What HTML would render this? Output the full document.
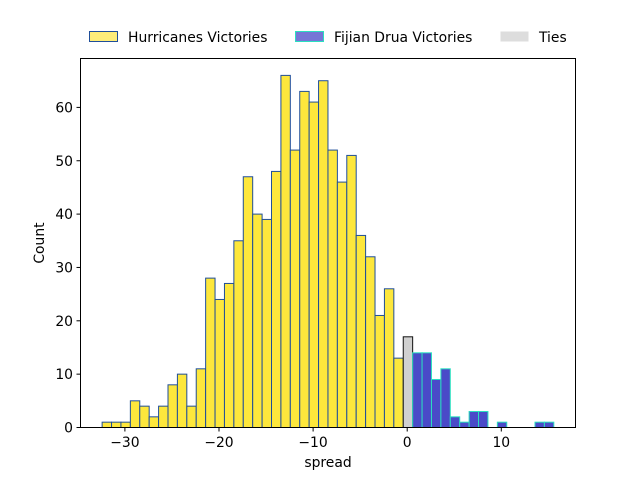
<!DOCTYPE html>
<html><head><meta charset="utf-8"><style>body{margin:0;background:#fff}svg{font-family:"DejaVu Sans","Liberation Sans",sans-serif}</style></head>
<body>
<svg id="chart" width="640" height="480">
<rect width="640" height="480" fill="#fff"/>
<g id="bars"></g>
<rect x="80.5" y="58.5" width="495" height="369" fill="none" stroke="#000" stroke-width="1"/>
<g id="axes"></g>
<text x="328" y="467" font-size="13.9" text-anchor="middle">spread</text>
<text x="44" y="243" font-size="13.9" text-anchor="middle" transform="rotate(-90 44 243)">Count</text>
<g>
<g><rect x="89.5" y="31.5" width="28" height="10" fill="#fde74c" fill-opacity="0.75" stroke="#1f4e9a"/><text x="128" y="42" font-size="13.9">Hurricanes Victories</text></g>
<g><rect x="295.5" y="31.5" width="28" height="10" fill="#4848c8" fill-opacity="0.75" stroke="#2adfc0"/><text x="334" y="42" font-size="13.9">Fijian Drua Victories</text></g>
<g><rect x="500.5" y="31.5" width="28" height="10" fill="#dddddd"/><text x="539" y="42" font-size="13.9">Ties</text></g>
</g>
</svg>
<script>
const hurricaneBins = [-32,-31,-30,-29,-28,-27,-26,-25,-24,-23,-22,-21,-20,-19,-18,-17,-16,-15,-14,-13,-12,-11,-10,-9,-8,-7,-6,-5,-4,-3,-2,-1];
const hurricaneCounts = [1,1,1,5,4,2,4,8,10,4,11,28,24,27,35,47,40,39,48,66,52,63,61,65,52,46,51,36,32,21,26,13];
const tieBins = [0];
const tieCounts = [17];
const fijiBins = [1,2,3,4,5,6,7,8,9,10,11,12,13,14,15];
const fijiCounts = [14,14,9,11,2,1,3,3,0,1,0,0,0,1,1];
const xTicks = [-30,-20,-10,0,10];
const yTicks = [0,10,20,30,40,50,60];

const NS="http://www.w3.org/2000/svg";
const xs = v => 407.2 + (v)*9.41;
const ys = v => 427.5 - v*5.335;
const bars=document.getElementById('bars'), axes=document.getElementById('axes');
function drawSeries(bins,counts,fill,stroke,name){
  bins.forEach((b,i)=>{
    if(!counts[i]) return;
    const r=document.createElementNS(NS,'rect');
    const x0=xs(b-0.42), x1=xs(b+0.58);
    r.setAttribute('x',x0);r.setAttribute('width',x1-x0);
    r.setAttribute('y',ys(counts[i]));r.setAttribute('height',ys(0)-ys(counts[i]));
    r.setAttribute('fill',fill);r.setAttribute('stroke',stroke);r.setAttribute('stroke-width','1');
    
    
    bars.appendChild(r);
  });
}
drawSeries(hurricaneBins,hurricaneCounts,'#fde73c','#1f4e9a','hurricanes');
drawSeries(tieBins,tieCounts,'#d0d0d0','#111','ties');
drawSeries(fijiBins,fijiCounts,'#4a4ac8','#2adfc0','fijian-drua');
xTicks.forEach(t=>{
  const x=xs(t);
  const l=document.createElementNS(NS,'line');
  l.setAttribute('x1',x);l.setAttribute('x2',x);l.setAttribute('y1',427.5);l.setAttribute('y2',431.5);l.setAttribute('stroke','#000');
  
  
  axes.appendChild(l);
  const tx=document.createElementNS(NS,'text');
  tx.setAttribute('x',x);tx.setAttribute('y',447);tx.setAttribute('font-size','13.9');tx.setAttribute('text-anchor','middle');
  tx.textContent=t<0?'\u2212'+(-t):String(t);
  
  
  axes.appendChild(tx);
});
yTicks.forEach(t=>{
  const y=ys(t);
  const l=document.createElementNS(NS,'line');
  l.setAttribute('x1',76.5);l.setAttribute('x2',80.5);l.setAttribute('y1',y);l.setAttribute('y2',y);l.setAttribute('stroke','#000');
  
  
  axes.appendChild(l);
  const tx=document.createElementNS(NS,'text');
  tx.setAttribute('x',73);tx.setAttribute('y',y+5);tx.setAttribute('font-size','13.9');tx.setAttribute('text-anchor','end');
  tx.textContent=String(t);
  
  
  axes.appendChild(tx);
});
</script>
</body></html>
